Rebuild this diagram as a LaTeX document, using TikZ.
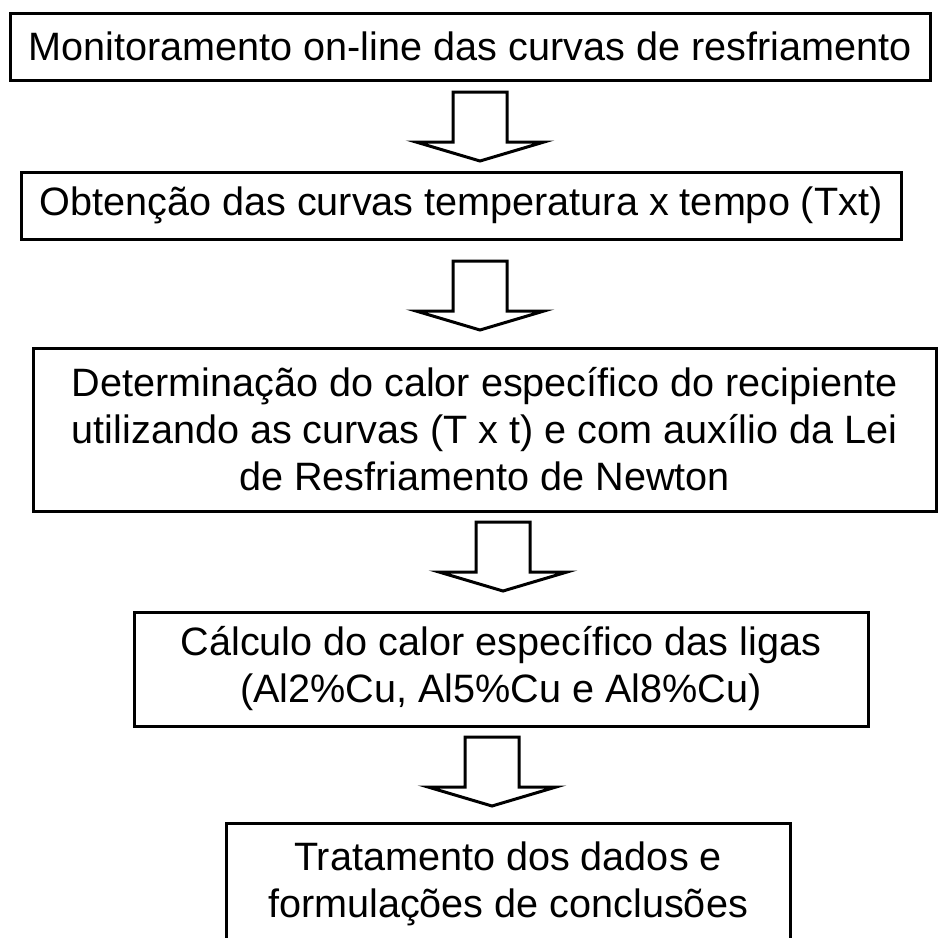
\documentclass[tikz,border=0pt]{standalone}
\usepackage{fontspec}
\setmainfont{Liberation Sans}
\usetikzlibrary{calc}
\begin{document}
\begin{tikzpicture}[x=1pt,y=-1pt,
  etapa/.style={draw,line width=3pt,rectangle,inner sep=0pt,align=center,
    font=\fontsize{39.6}{47}\selectfont},
  seta/.pic={\draw [line width=3pt,fill=white] (-27,0) -- (-27,50) -- (-64,50) -- (0,69)
    -- (64,50) -- (27,50) -- (27,0) -- cycle;}]
  \useasboundingbox (0,0) rectangle (938,938);
  \clip (0,0) rectangle (938,938);
  \node [etapa,minimum width=920,minimum height=67] (monit) at (470,46.5)
    {Monitoramento on-line das curvas de resfriamento};
  \node [etapa,minimum width=880,minimum height=67] (curvas) at (461,205.5)
    {Obtenção das curvas temperatura x tempo (Txt)};
  \node [etapa,minimum width=903,minimum height=163] (calrec) at (484.5,429.5)
    {Determinação do calor específico do recipiente\\utilizando as curvas (T x t) e com auxílio da Lei\\de Resfriamento de Newton};
  \node [etapa,minimum width=734,minimum height=114] (calliga) at (501,669)
    {Cálculo do calor específico das ligas\\(Al2\%Cu, Al5\%Cu e Al8\%Cu)};
  \node [etapa,minimum width=564,minimum height=122] (trat) at (508,884)
    {Tratamento dos dados e\\formulações de conclusões};
  \pic at ($(monit.south)+(10,10.5)$) {seta};
  \pic at ($(curvas.south)+(19,20.5)$) {seta};
  \pic at ($(calrec.south)+(18.5,9.5)$) {seta};
  \pic at ($(calliga.south)+(-9,9.5)$) {seta};
\end{tikzpicture}
\end{document}
